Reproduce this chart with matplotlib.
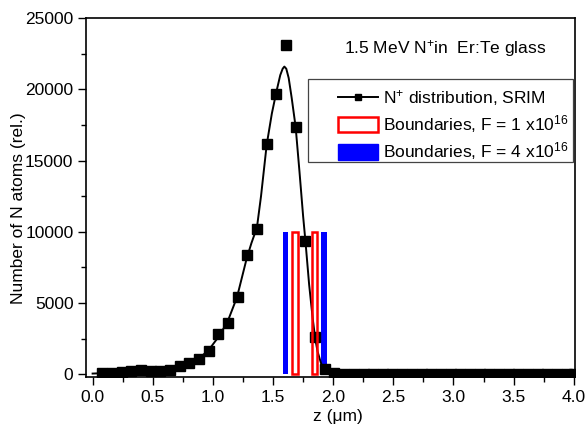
import matplotlib.pyplot as plt
from matplotlib.lines import Line2D
from matplotlib.patches import Patch, Rectangle

plt.rcParams["font.family"] = ["Liberation Sans", "DejaVu Sans"]
plt.rcParams["mathtext.fontset"] = "custom"
plt.rcParams["mathtext.rm"] = "Liberation Sans"
plt.rcParams["mathtext.it"] = "Liberation Sans:italic"

# SRIM points (z in um, counts)
srim_z = [0.080, 0.160, 0.241, 0.321, 0.401, 0.482, 0.562, 0.643, 0.723, 0.803,
          0.884, 0.964, 1.045, 1.125, 1.206, 1.286, 1.366, 1.447, 1.527, 1.608,
          1.688, 1.769, 1.849, 1.930, 2.010, 2.091, 2.171, 2.252, 2.332, 2.413,
          2.493, 2.574, 2.654, 2.735, 2.815, 2.896, 2.976, 3.057, 3.137, 3.218,
          3.298, 3.379, 3.459, 3.540, 3.620, 3.701, 3.781, 3.862, 3.942, 4.000]
srim_n = [80, 110, 170, 230, 330, 210, 220, 330, 560, 780,
          1080, 1620, 2840, 3570, 5450, 8360, 10230, 16180, 19700, 23100,
          17350, 9370, 2600, 350, 60, 40, 40, 40, 40, 40,
          40, 40, 40, 40, 40, 40, 40, 40, 40, 40,
          40, 40, 40, 40, 40, 40, 40, 40, 40, 40]

# fitted curve
fit_z = [0.00, 0.20, 0.40, 0.60, 0.70, 0.80, 0.88, 0.96, 1.04, 1.12,
         1.20, 1.28, 1.32, 1.366, 1.40, 1.447, 1.49, 1.527, 1.56, 1.58,
         1.594, 1.61, 1.63, 1.655, 1.688, 1.72, 1.75, 1.769, 1.80, 1.83,
         1.849, 1.87, 1.90, 1.93, 1.96, 2.00, 4.00]
fit_n = [50, 120, 230, 380, 540, 780, 1100, 1650, 2550, 3650,
         5400, 8100, 9200, 10300, 12500, 16100, 18300, 19800, 21000, 21450,
         21600, 21450, 20800, 19400, 17350, 14200, 11100, 9370, 6300, 3900,
         2600, 1600, 750, 300, 90, 20, 20]

# boundary bars
blue_z = [1.605, 1.925]
red_z = [1.683, 1.845]
bar_height = [10000, 10000]
bar_width = 0.045

fs = 12.5

fig = plt.figure(figsize=(5.87, 4.32), dpi=100)
ax = fig.add_axes([0.1465, 0.127, 0.833, 0.831])

ax.bar(blue_z, bar_height, width=bar_width, color="#0000ff", zorder=2)
ax.bar(red_z, bar_height, width=bar_width, facecolor="none",
       edgecolor="#ff0000", linewidth=1.8, zorder=4)
ax.plot(fit_z, fit_n, color="black", linewidth=1.4, zorder=3)
ax.plot(srim_z, srim_n, linestyle="none", marker="s", markersize=7.5,
        color="black", zorder=3)

ax.text(2.09, 22900, "1.5 MeV N$^{+}$in  Er:Te glass", fontsize=fs,
        va="center", ha="left")

# legend: frame drawn separately so the left padding can match the original
frame = Rectangle((0.454, 0.599), 0.542, 0.231, transform=ax.transAxes,
                  facecolor="white", edgecolor="#444444", linewidth=0.9,
                  zorder=5)
ax.add_patch(frame)

handles = [
    Line2D([0], [0], color="black", linewidth=1.4, marker="s", markersize=5),
    Patch(facecolor="white", edgecolor="#ff0000", linewidth=1.8),
    Patch(facecolor="#0000ff", edgecolor="#0000ff"),
]
labels = [
    "N$^{+}$ distribution, SRIM",
    "Boundaries, F = 1 x10$^{16}$",
    "Boundaries, F = 4 x10$^{16}$",
]
leg = ax.legend(handles, labels, loc="upper left",
                bbox_to_anchor=(0.515, 0.805), fontsize=fs, frameon=False,
                handlelength=2.3, handleheight=1.0, borderpad=0,
                labelspacing=0.3, handletextpad=0.3, borderaxespad=0)
leg.set_zorder(6)

ax.set_xlim(-0.055, 4.01)
ax.set_ylim(-200, 25000)
ax.set_xticks([0.0, 0.5, 1.0, 1.5, 2.0, 2.5, 3.0, 3.5, 4.0])
ax.set_xticks([0.25, 0.75, 1.25, 1.75, 2.25, 2.75, 3.25, 3.75], minor=True)
ax.set_yticks([0, 5000, 10000, 15000, 20000, 25000])
ax.set_yticks([2500, 7500, 12500, 17500, 22500], minor=True)
ax.set_xticklabels(["0.0", "0.5", "1.0", "1.5", "2.0", "2.5", "3.0", "3.5", "4.0"])
ax.tick_params(which="both", direction="out", labelsize=fs, width=1.0)
ax.tick_params(which="major", length=5.5)
ax.tick_params(which="minor", length=3.5)
for side in ax.spines.values():
    side.set_linewidth(1.2)

ax.set_xlabel("z (\u03bcm)", fontsize=fs)
ax.set_ylabel("Number of N atoms (rel.)", fontsize=fs)
ax.yaxis.set_label_coords(-0.122, 0.47)
ax.xaxis.set_label_coords(0.515, -0.09)

fig.savefig("out.png", dpi=100)
